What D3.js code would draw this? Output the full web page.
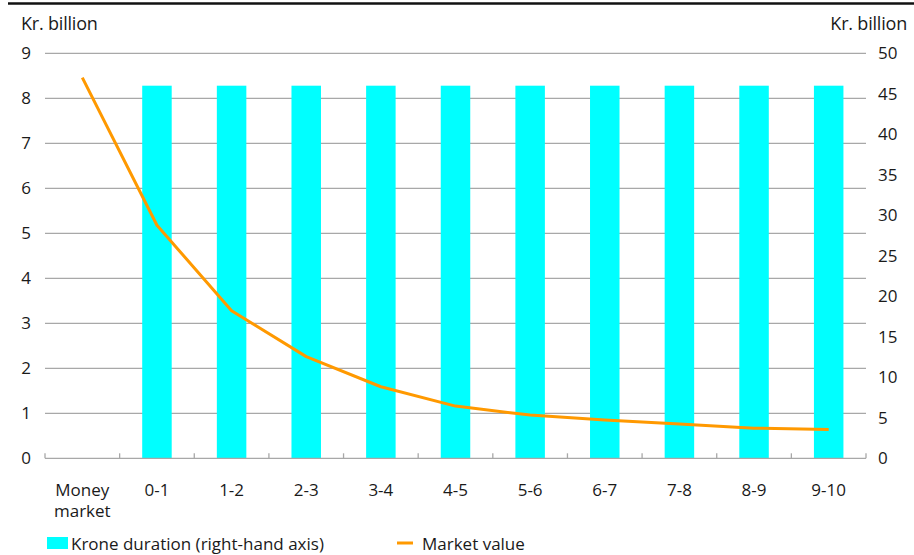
<!DOCTYPE html>
<html>
<head>
<meta charset="utf-8">
<script src="https://cdn.jsdelivr.net/npm/d3@7"></script>
<style>
  html, body { margin: 0; padding: 0; background: #fff; }
  svg { display: block; }
  text { font-family: "Open Sans", "Noto Sans", sans-serif; fill: #1a1a1a; }
</style>
</head>
<body>
<svg id="chart" width="914" height="555"></svg>
<script>
// Maturity buckets (years)
const categories = ["Money market", "0-1", "1-2", "2-3", "3-4", "4-5", "5-6", "6-7", "7-8", "8-9", "9-10"];
// Market value, kr. billion (left-hand axis)
const marketValue = [8.46, 5.18, 3.28, 2.26, 1.59, 1.16, 0.96, 0.85, 0.76, 0.67, 0.64];
// Krone duration, kr. billion (right-hand axis)
const kroneDuration = [null, 46, 46, 46, 46, 46, 46, 46, 46, 46, 46];
// Axis ticks
const leftTicks = [0, 1, 2, 3, 4, 5, 6, 7, 8, 9];
const rightTicks = [0, 5, 10, 15, 20, 25, 30, 35, 40, 45, 50];

const svg = d3.select("#chart");
const W = 914;
const FS = 17;
const plot = { left: 45, right: 866, top: 53.3, bottom: 458.3 };

const x = d3.scaleBand().domain(categories).range([plot.left, plot.right]).paddingInner(0).paddingOuter(0);
const yL = d3.scaleLinear().domain([0, 9]).range([plot.bottom, plot.top]);
const yR = d3.scaleLinear().domain([0, 50]).range([plot.bottom, plot.top]);

// Top rule
svg.append("line")
  .attr("x1", 8).attr("x2", W).attr("y1", 3.5).attr("y2", 3.5)
  .attr("stroke", "#111").attr("stroke-width", 2.6);

// Axis unit labels
svg.append("text").attr("x", 21).attr("y", 30).attr("font-size", 18).attr("letter-spacing", -0.2).text("Kr. billion");
svg.append("text").attr("x", 907).attr("y", 30).attr("font-size", 18).attr("letter-spacing", -0.2)
  .attr("text-anchor", "end").text("Kr. billion");

// Horizontal gridlines from the left-hand axis
svg.append("g").selectAll("line")
  .data(leftTicks.filter(d => d > 0))
  .join("line")
  .attr("x1", plot.left).attr("x2", plot.right)
  .attr("y1", d => yL(d)).attr("y2", d => yL(d))
  .attr("stroke", "#a8a8a8").attr("stroke-width", 1.3);

// Left-hand tick labels
svg.append("g").selectAll("text")
  .data(leftTicks)
  .join("text")
  .attr("x", 31).attr("y", d => yL(d))
  .attr("dy", "0.36em")
  .attr("text-anchor", "end")
  .attr("font-size", FS)
  .text(d => d);

// Right-hand tick labels
svg.append("g").selectAll("text")
  .data(rightTicks)
  .join("text")
  .attr("x", 878).attr("y", d => yR(d))
  .attr("dy", "0.36em")
  .attr("text-anchor", "start")
  .attr("font-size", FS)
  .text(d => d);

// Bars: krone duration on the right-hand scale
const barW = 29.5;
svg.append("g").selectAll("rect")
  .data(categories.map((c, i) => ({ c, v: kroneDuration[i] })).filter(d => d.v != null))
  .join("rect")
  .attr("x", d => x(d.c) + x.bandwidth() / 2 - barW / 2)
  .attr("width", barW)
  .attr("y", d => yR(d.v))
  .attr("height", d => yR(0) - yR(d.v))
  .attr("fill", "#00ffff");

// Baseline and category ticks
svg.append("line")
  .attr("x1", plot.left).attr("x2", plot.right)
  .attr("y1", plot.bottom).attr("y2", plot.bottom)
  .attr("stroke", "#a8a8a8").attr("stroke-width", 1.3);
const bounds = categories.map(c => x(c)).concat([plot.right]);
svg.append("g").selectAll("line")
  .data(bounds)
  .join("line")
  .attr("x1", d => d).attr("x2", d => d)
  .attr("y1", plot.bottom).attr("y2", plot.bottom - 5)
  .attr("stroke", "#a8a8a8").attr("stroke-width", 1.3);

// Market value line on the left-hand scale
const line = d3.line()
  .x((d, i) => x(categories[i]) + x.bandwidth() / 2)
  .y(d => yL(d));
svg.append("path")
  .datum(marketValue)
  .attr("d", line)
  .attr("fill", "none")
  .attr("stroke", "#ff9900")
  .attr("stroke-width", 3)
  .attr("stroke-linejoin", "round");

// Category labels
const xl = svg.append("g").selectAll("text")
  .data(categories)
  .join("text")
  .attr("x", d => x(d) + x.bandwidth() / 2)
  .attr("y", 496)
  .attr("text-anchor", "middle")
  .attr("font-size", FS);
xl.each(function (d) {
  const parts = d === "Money market" ? ["Money", "market"] : [d];
  d3.select(this).selectAll("tspan")
    .data(parts)
    .join("tspan")
    .attr("x", x(d) + x.bandwidth() / 2)
    .attr("dy", (p, i) => i === 0 ? 0 : 21)
    .text(p => p);
});

// Legend
const lg = svg.append("g");
lg.append("rect").attr("x", 47).attr("y", 537).attr("width", 21).attr("height", 12).attr("fill", "#00ffff");
lg.append("text").attr("x", 71).attr("y", 550).attr("font-size", FS).text("Krone duration (right-hand axis)");
lg.append("line").attr("x1", 397).attr("x2", 413).attr("y1", 543).attr("y2", 543)
  .attr("stroke", "#ff9900").attr("stroke-width", 3);
lg.append("text").attr("x", 422).attr("y", 550).attr("font-size", FS).text("Market value");
</script>
</body>
</html>
